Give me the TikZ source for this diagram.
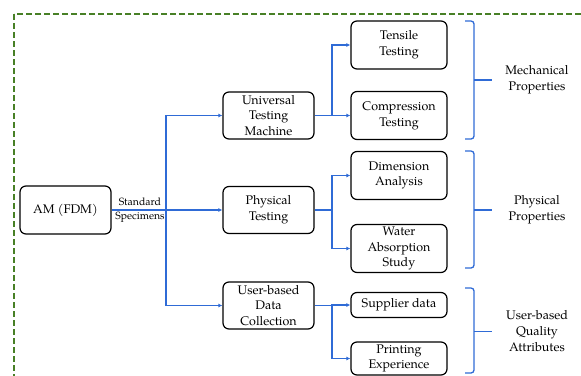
\documentclass[tikz,border=0pt]{standalone}
\usepackage{fontspec}
\setmainfont{TeX Gyre Pagella}
\usetikzlibrary{arrows.meta,positioning}
\definecolor{flowblue}{RGB}{47,107,214}
\definecolor{frmgreen}{RGB}{72,128,38}
\tikzset{
  box/.style={draw=black, line width=1.2pt, rounded corners=6pt, align=center,
              inner sep=1pt, font=\fontsize{12.5}{15.7}\selectfont},
  lvlone/.style={box, minimum width=91pt, minimum height=47pt},
  lvltwo/.style={box, minimum width=96pt, minimum height=48pt},
  flowarr/.style={-{Latex[length=4pt,width=4pt]}, flowblue, line width=1.3pt},
  flowline/.style={flowblue, line width=1.3pt},
  brc/.style={flowblue, line width=1.3pt, rounded corners=3pt},
  grp/.style={align=center, font=\fontsize{12.5}{15.7}\selectfont},
}

\begin{document}
\begin{tikzpicture}[x=1pt, y=-1pt]
  \useasboundingbox (0,0) rectangle (581,375);
  \clip (0,0) rectangle (581,375);
  % --- dashed frame
  \draw[frmgreen, line width=2pt, dash pattern=on 6pt off 3pt] (14,14) rectangle (600,400);
  % --- source
  \node[box, minimum width=91pt, minimum height=48pt] (am) at (65.5,210) {AM (FDM)};
  \node[align=center, font=\fontsize{10.5}{14}\selectfont] (spec) at (140,210) {Standard\\Specimens};
  % --- first level
  \node[lvlone] (utm) at (268.5,115.5) {Universal\\Testing\\Machine};
  \node[lvlone] (phys) at (268.5,210) {Physical\\Testing};
  \node[lvlone] (udc) at (268.5,305.5) {User-based\\Data\\Collection};
  % --- second level
  \node[lvltwo] (tens) at (399,45) {Tensile\\Testing};
  \node[lvltwo] (comp) at (399,115.5) {Compression\\Testing};
  \node[lvltwo] (dim) at (399,175.5) {Dimension\\Analysis};
  \node[lvltwo] (water) at (399,248.5) {Water\\Absorption\\Study};
  \node[box, minimum width=96pt, minimum height=25pt] (supp) at (399,305) {Supplier data};
  \node[box, minimum width=96pt, minimum height=33pt] (print) at (399,358.5) {Printing\\Experience};
  % --- splits
  \coordinate (sA) at (166,210);
  \coordinate (sB) at (332,115.5);
  \coordinate (sC) at (332,210);
  \coordinate (sD) at (332,305.5);
  \draw[flowline] (am.east) -- (sA);
  \draw[flowarr] (sA) |- (utm.west);
  \draw[flowarr] (sA) -- (phys.west);
  \draw[flowarr] (sA) |- (udc.west);
  \draw[flowline] (utm.east) -- (sB);
  \draw[flowarr] (sB) |- (tens.west);
  \draw[flowarr] (sB) -- (comp.west);
  \draw[flowline] (phys.east) -- (sC);
  \draw[flowarr] (sC) |- (dim.west);
  \draw[flowarr] (sC) |- (water.west);
  \draw[flowline] (udc.east) -- (sD);
  \draw[flowarr] (sD) |- (supp.west);
  \draw[flowarr] (sD) |- (print.west);
  % --- braces and groups
  \foreach \t/\b/\m in {21/139/80, 151/268/210, 288/373/331.5}{
    \draw[brc] (465,\t) -| (474,\m) |- (465,\b);
    \draw[brc] (474,\m) -- (492,\m);
  }
  \node[grp] (mech) at (537,80) {Mechanical\\Properties};
  \node[grp] (physp) at (537,210) {Physical\\Properties};
  \node[grp] (qual) at (537,331) {User-based\\Quality\\Attributes};
\end{tikzpicture}
\end{document}
